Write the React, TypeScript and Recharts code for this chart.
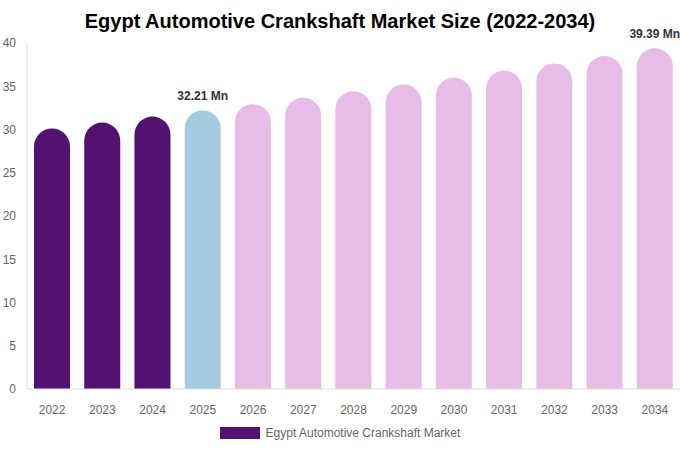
import React from "react";
import { BarChart, Bar, XAxis, YAxis, Cell, LabelList } from "recharts";

const years = ["2022", "2023", "2024", "2025", "2026", "2027", "2028", "2029", "2030", "2031", "2032", "2033", "2034"];
const values = [30.12, 30.8, 31.5, 32.21, 32.93, 33.67, 34.43, 35.21, 36.0, 36.81, 37.64, 38.49, 39.39];
const barColors = ["#541270", "#541270", "#541270", "#A4CBDF", "#E7BDE8", "#E7BDE8", "#E7BDE8", "#E7BDE8", "#E7BDE8", "#E7BDE8", "#E7BDE8", "#E7BDE8", "#E7BDE8"];
const labelledYears = ["2025", "2034"];
const yTicks = [0, 5, 10, 15, 20, 25, 30, 35, 40];

const data = years.map((y, i) => ({ year: y, value: values[i], color: barColors[i] }));

const FONT = "'Liberation Sans', Arial, sans-serif";

const renderLabel = (props: any) => {
  const { x, y, width, index } = props;
  const d = data[index];
  if (!labelledYears.includes(d.year)) return null;
  return (
    <text x={x + width / 2} y={y - 10} textAnchor="middle" fontSize={12} fontWeight="bold" fill="#333" fontFamily={FONT}>
      {d.value.toFixed(2)} Mn
    </text>
  );
};

export default function App() {
  return (
    <div style={{ position: "absolute", left: 0, top: 0, width: 680, height: 450, background: "#fff", fontFamily: FONT }}>
      <div style={{ position: "absolute", top: 10, left: 0, width: 680, textAlign: "center", fontSize: 20, fontWeight: "bold", color: "#000" }}>
        Egypt Automotive Crankshaft Market Size (2022-2034)
      </div>
      <BarChart width={680} height={450} data={data} margin={{ top: 43, right: 0, left: 0, bottom: 31 }}>
        <XAxis
          dataKey="year"
          tickLine={false}
          axisLine={{ stroke: "#ddd" }}
          tick={{ fontSize: 12, fill: "#666", fontFamily: FONT }}
          tickMargin={10}
          interval={0}
        />
        <YAxis
          width={27}
          domain={[0, 40]}
          ticks={yTicks}
          tickLine={false}
          axisLine={{ stroke: "#ddd" }}
          tick={{ fontSize: 12, fill: "#666", fontFamily: FONT }}
          tickMargin={5}
        />
        <Bar dataKey="value" barSize={36} radius={[18, 18, 0, 0]} isAnimationActive={false}>
          {data.map((d, i) => (
            <Cell key={i} fill={d.color} />
          ))}
          <LabelList dataKey="value" content={renderLabel} />
        </Bar>
      </BarChart>
      <div style={{ position: "absolute", top: 426, left: 0, width: 680, display: "flex", justifyContent: "center", alignItems: "center", fontSize: 12, color: "#666" }}>
        <span style={{ display: "inline-block", width: 40, height: 12, background: "#541270", marginRight: 6 }} />
        <span>Egypt Automotive Crankshaft Market</span>
      </div>
    </div>
  );
}
